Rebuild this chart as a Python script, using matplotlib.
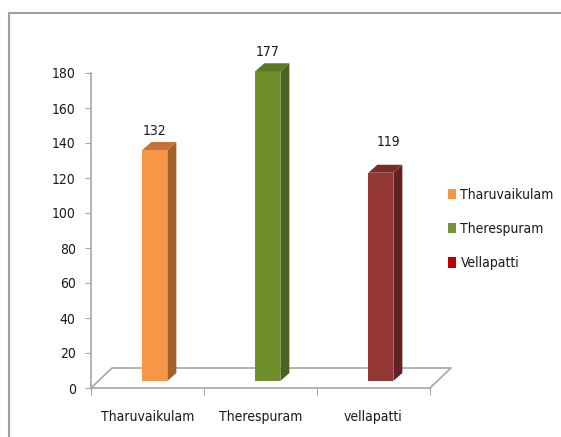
import matplotlib
matplotlib.use("Agg")
import matplotlib.pyplot as plt
from matplotlib.patches import Polygon, Patch, Rectangle

# Data
categories = ["Tharuvaikulam", "Therespuram", "vellapatti"]
legend_labels = ["Tharuvaikulam", "Therespuram", "Vellapatti"]
values = [132, 177, 119]
y_ticks = [0, 20, 40, 60, 80, 100, 120, 140, 160, 180]

# Colours (front, side, top)
front_colors = ["#F79646", "#6F8F2B", "#953735"]
side_colors = ["#A5612B", "#4B6320", "#602222"]
top_colors = ["#C2723A", "#5A7A24", "#7A2C2B"]
legend_colors = ["#F79646", "#77933C", "#C00000"]
GRID = "#A6A6A6"
TXT = "#1A1A1A"
FS = 10

W, H = 561, 437
plt.rcParams["font.family"] = ["DejaVu Sans"]
plt.rcParams["font.stretch"] = "condensed"
fig = plt.figure(figsize=(W / 100, H / 100), dpi=100)

# axes over whole figure; x in category units, y in value units
ax = fig.add_axes([0, 0, 1, 1])
px_x = 113.0          # pixels per category
px_y = 1.75           # pixels per value unit
x0_px = 91 + 0.5 * px_x
ax.set_xlim(-x0_px / px_x, (W - x0_px) / px_x)
ax.set_ylim(-(H - 388) / px_y, 388 / px_y)
ax.patch.set_visible(False)

# floor depth offsets
fdx, fdy = 21 / px_x, 20 / px_y
f = 0.35                       # bar position in depth
bw = 25 / px_x                 # bar front width
sdx, sdy = 9 / px_x, 8 / px_y  # bar depth

# floor outline
n = len(categories)
ax.plot([-0.5, -0.5 + fdx, n - 0.5 + fdx, n - 0.5],
        [0, fdy, fdy, 0], color=GRID, lw=1.2, zorder=1)

# bars
label_off = [(0, 11), (0, 11), (8, 23)]
for i, v in enumerate(values):
    cx = i + f * fdx
    base = f * fdy
    xl, xr = cx - bw / 2, cx + bw / 2
    top = base + v
    ax.add_patch(Polygon([(xl, base), (xr, base), (xr, top), (xl, top)],
                         closed=True, fc=front_colors[i], ec="none", zorder=3))
    ax.add_patch(Polygon([(xr, base), (xr + sdx, base + sdy),
                          (xr + sdx, top + sdy), (xr, top)],
                         closed=True, fc=side_colors[i], ec="none", zorder=3))
    ax.add_patch(Polygon([(xl, top), (xr, top), (xr + sdx, top + sdy),
                          (xl + sdx, top + sdy)],
                         closed=True, fc=top_colors[i], ec="none", zorder=3))
    ax.annotate(str(v), (cx, top + sdy), xytext=label_off[i],
                textcoords="offset pixels", ha="center", va="center",
                fontsize=FS, color=TXT)

# value axis
for s in ["top", "right"]:
    ax.spines[s].set_visible(False)
ax.spines["left"].set_position(("data", -0.5))
ax.spines["left"].set_bounds(0, 180)
ax.spines["bottom"].set_position(("data", 0))
ax.spines["bottom"].set_bounds(-0.5, n - 0.5)
for s in ["left", "bottom"]:
    ax.spines[s].set_color(GRID)
    ax.spines[s].set_linewidth(1.2)
ax.set_yticks(y_ticks)
ax.tick_params(axis="y", direction="out", length=4, color=GRID, pad=7,
               labelsize=FS, labelcolor=TXT)
ax.set_xticks([i - 0.5 for i in range(n + 1)])
ax.set_xticklabels([])
ax.tick_params(axis="x", direction="out", length=5, color=GRID)
for i, c in enumerate(categories):
    ax.text(i, -29 / px_y, c, ha="center", va="center", fontsize=FS,
            color=TXT)

# legend
handles = [Patch(fc=c, ec="none") for c in legend_colors]
fig.legend(handles, legend_labels, loc="center left",
           bbox_to_anchor=(441 / W, 1 - 229 / H), frameon=False,
           fontsize=FS, handlelength=0.55, handleheight=0.8, handletextpad=0.35,
           labelspacing=1.45, borderpad=0, labelcolor=TXT)

# outer border
fig.patches.append(Rectangle((9 / W, -0.1), 1.2, 1.1 - 13 / H,
                             transform=fig.transFigure, fill=False,
                             ec="#A0A0A0", lw=1.5))

fig.savefig("out.png", dpi=100)
